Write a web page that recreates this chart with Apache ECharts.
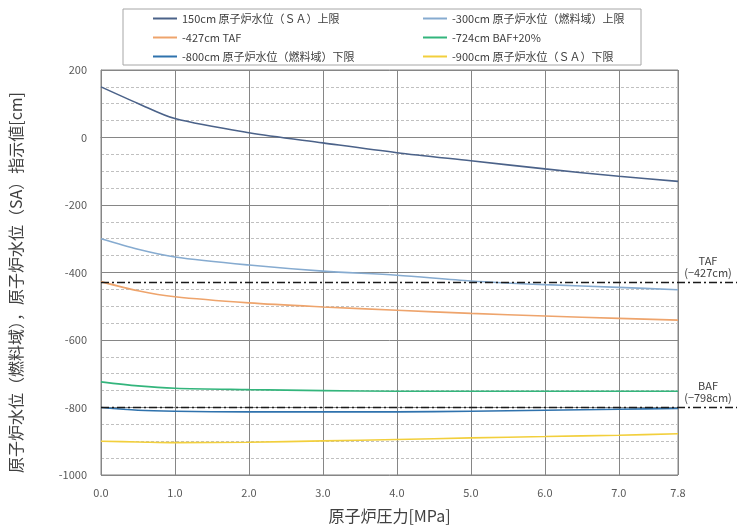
<!DOCTYPE html>
<html>
<head>
<meta charset="utf-8">
<script src="https://cdn.jsdelivr.net/npm/echarts@6/dist/echarts.min.js"></script>
<style>
html, body { margin: 0; padding: 0; background: #fff; }
#main { width: 737px; height: 529px; }
</style>
</head>
<body>
<div id="main"></div>
<script>
// 原子炉圧力 [MPa]
var aPressure = [0, 0.5, 1, 2, 3, 4, 5, 6, 7, 7.8];
// 各水位計の指示値 [cm]
var aSaUpper = [150, 101, 56, 14, -16, -45, -69, -93, -115, -130];
var aFuelUpper = [-300, -331, -354, -378, -396, -408, -425, -436, -444, -451];
var aTaf = [-427, -454, -472, -490, -502, -512, -521, -529, -536, -541];
var aBaf20 = [-724, -736, -743, -747, -750, -752, -752, -752, -752, -752];
var aFuelLower = [-800, -808, -811, -813, -813, -813, -811, -808, -805, -803];
var aSaLower = [-900, -902, -904, -903, -899, -895, -890, -886, -882, -878];
var aNames = ['150cm 原子炉水位（ＳＡ）上限', '-300cm 原子炉水位（燃料域）上限', '-427cm TAF',
    '-724cm BAF+20%', '-800cm 原子炉水位（燃料域）下限', '-900cm 原子炉水位（ＳＡ）下限'];
var aColors = ['#4b6289', '#86abd0', '#eea46c', '#33b57c', '#2f72ad', '#f2cf3c'];
// 基準線 TAF / BAF
var aRefValues = [-427, -798];
var aRefLabels = ['TAF\n(−427cm)', 'BAF\n(−798cm)'];

var sFont = '"Noto Sans CJK JP", "Noto Sans", sans-serif';

function MakeSeries(iIdx, aValues) {
    var aData = [];
    for (var i = 0; i < aPressure.length; i++) {
        aData.push([aPressure[i], aValues[i]]);
    }
    return {
        name: aNames[iIdx],
        type: 'line',
        data: aData,
        smooth: 0.3,
        showSymbol: false,
        lineStyle: {width: 1.6, color: aColors[iIdx]},
        itemStyle: {color: aColors[iIdx]}
    };
}

var oChart = echarts.init(document.getElementById('main'));
var jOption = {
    animation: false,
    textStyle: {fontFamily: sFont},
    grid: {left: 101, right: 59, top: 70, bottom: 54, show: true, borderColor: '#868686', borderWidth: 1},
    legend: [
        {
            orient: 'vertical', left: 148, top: 7, itemGap: 6,
            icon: 'rect', itemWidth: 24, itemHeight: 2,
            textStyle: {fontSize: 11, color: '#404040', fontFamily: sFont, lineHeight: 13},
            data: [aNames[0], aNames[2], aNames[4]]
        },
        {
            orient: 'vertical', left: 418, top: 7, itemGap: 6,
            icon: 'rect', itemWidth: 24, itemHeight: 2,
            textStyle: {fontSize: 11, color: '#404040', fontFamily: sFont, lineHeight: 13},
            data: [aNames[1], aNames[3], aNames[5]]
        }
    ],
    xAxis: {
        type: 'value', min: 0, max: 7.8, interval: 1,
        name: '原子炉圧力[MPa]', nameLocation: 'middle', nameGap: 33,
        nameTextStyle: {fontSize: 16, color: '#404040'},
        axisLine: {lineStyle: {color: '#868686'}},
        axisTick: {show: false},
        axisLabel: {
            color: '#595959', fontSize: 11, margin: 12, showMaxLabel: true,
            formatter: function (v) { return v.toFixed(1); }
        },
        splitLine: {show: true, lineStyle: {color: '#868686', width: 1}}
    },
    yAxis: {
        type: 'value', min: -1000, max: 200, interval: 200,
        name: '原子炉水位（燃料域），原子炉水位（SA）指示値[cm]', nameLocation: 'middle', nameGap: 77,
        nameTextStyle: {fontSize: 16, color: '#404040', padding: [0, 20, 0, 0]},
        axisLine: {show: true, lineStyle: {color: '#868686'}},
        axisTick: {show: false},
        axisLabel: {
            color: '#595959', fontSize: 11, margin: 14,
            formatter: function (v) { return String(v); }
        },
        splitLine: {show: true, lineStyle: {color: '#868686', width: 1}},
        minorTick: {show: false, splitNumber: 4},
        minorSplitLine: {show: true, lineStyle: {color: '#c0c0c0', type: [3, 2], width: 1}}
    },
    series: [
        MakeSeries(0, aSaUpper),
        MakeSeries(1, aFuelUpper),
        MakeSeries(2, aTaf),
        MakeSeries(3, aBaf20),
        MakeSeries(4, aFuelLower),
        MakeSeries(5, aSaLower)
    ]
};
oChart.setOption(jOption);

// 凡例の枠と基準線(グリッドの外まで伸ばす)
var iLeft = oChart.convertToPixel({xAxisIndex: 0}, 0);
var aGraphic = [{
    type: 'rect', z: 0,
    shape: {x: 123, y: 9, width: 518, height: 56},
    style: {fill: '#fff', stroke: '#a6a6a6', lineWidth: 1}
}];
for (var i = 0; i < aRefValues.length; i++) {
    var iY = Math.round(oChart.convertToPixel({yAxisIndex: 0}, aRefValues[i])) + 0.5;
    aGraphic.push({
        type: 'line', z: 10,
        shape: {x1: iLeft, y1: iY, x2: 737, y2: iY},
        style: {stroke: '#1a1a1a', lineWidth: 1.5, lineDash: [8, 3, 2, 3]}
    });
    aGraphic.push({
        type: 'text', z: 10,
        x: 708, y: iY - 4,
        style: {
            text: aRefLabels[i], fill: '#404040', font: '11px ' + sFont,
            align: 'center', verticalAlign: 'bottom', lineHeight: 12
        }
    });
}
oChart.setOption({graphic: aGraphic});
</script>
</body>
</html>
